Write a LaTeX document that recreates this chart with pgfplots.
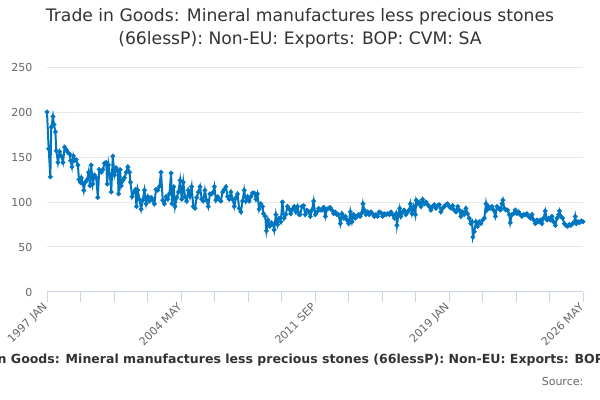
\documentclass[border=0pt]{standalone}
\usepackage{fontspec}
\setmainfont{DejaVu Sans}
\usepackage{pgfplots}
\usepackage{pgfplotstable}
\pgfplotsset{compat=1.18}
\definecolor{ons}{RGB}{0,118,192}
\definecolor{gridc}{RGB}{230,230,230}
\definecolor{axc}{RGB}{204,214,235}
\definecolor{lab}{RGB}{102,102,102}
\definecolor{tit}{RGB}{51,51,51}
\pgfplotstableread{
m v
0 200
1.1 159
2.2 128
2.8 183
3.9 195
4.6 186
5.5 178
6.1 157
7.2 144
8.3 156
9.4 151
10.5 144
11.6 161
12.7 158
13.8 155
14.9 153
15.5 146
16.4 139
17.3 151
18.1 146
19.2 147
20.3 141
21.0 125
21.8 122
22.5 127
23.6 120
24.2 113
25.1 122
26.4 125
27.3 133
28.2 118
29.0 141
30.1 120
31.2 130
32.3 127
33.4 105
34.3 136
35.6 133
36.7 136
37.8 143
38.9 144
39.5 120
40.4 141
41.3 130
42.2 111
43.2 151
44.3 130
45.4 138
46.5 134
47.0 109
48.0 136
48.7 118
49.8 124
50.9 127
52.0 133
53.1 139
54.2 133
54.8 122
55.9 106
57.0 111
58.1 114
58.7 95
59.6 113
60.7 103
61.8 92
62.9 102
64.0 113
65.1 98
66.2 106
67.3 101
68.4 105
69.5 102
70.5 98
71.6 114
72.7 113
73.8 117
74.9 133
76.0 102
77.1 98
78.2 106
79.3 103
80.4 109
81.5 132
82.1 98
83.2 117
84.1 95
85.2 105
86.3 111
87.4 124
88.5 103
89.5 122
90.6 106
91.7 101
92.8 113
93.9 106
95.0 117
96.1 95
97.2 93
98.3 105
99.4 111
100.5 117
101.6 103
102.6 101
103.7 113
104.8 102
105.9 95
107.0 109
108.1 109
109.2 111
109.9 117
110.9 102
112.0 106
113.1 103
114.2 101
115.3 111
116.4 114
117.5 117
118.6 106
119.7 103
120.8 111
121.9 103
123.0 95
124.1 105
125.1 109
126.2 93
127.3 89
128.4 101
129.5 113
130.6 101
131.7 106
132.8 101
133.9 106
135.0 110
136.1 110
137.2 103
138.2 109
139.3 92
140.4 98
141.5 95
142.2 87
143.3 84
144.1 68
145.2 80
146.3 73
147.4 77
148.5 75
149.2 69
150.3 86
151.4 75
152.4 82
153.5 78
154.6 100
155.7 82
156.8 86
157.9 95
159.0 92
160.1 87
161.2 92
162.3 95
163.4 89
164.5 95
165.5 86
166.3 86
167.4 95
168.5 96
169.6 86
170.7 91
171.8 89
172.9 84
174.0 91
175.1 101
176.2 86
177.3 89
178.4 93
179.5 91
180.6 91
181.7 94
182.8 84
183.8 92
184.9 93
186.0 94
187.1 91
188.2 87
189.3 89
190.4 86
191.5 86
192.6 76
193.7 87
194.8 82
195.9 84
197.0 80
198.1 76
199.2 89
200.3 78
201.4 86
202.5 82
203.5 84
204.6 86
205.7 84
206.8 88
207.5 98
208.4 91
209.5 86
210.6 89
211.6 86
212.7 89
213.8 87
214.9 84
216.0 86
217.1 84
218.2 89
219.3 88
220.4 84
221.5 87
222.6 86
223.7 87
224.8 86
225.9 89
227.0 86
228.1 82
229.2 87
229.8 74
230.9 87
231.6 93
232.4 84
233.5 89
234.6 91
235.7 86
236.8 89
237.9 91
238.6 98
239.7 87
240.8 95
241.9 86
242.5 102
243.4 98
244.5 100
245.6 95
246.7 103
247.8 98
248.9 100
250.0 97
251.1 95
252.1 91
253.2 95
254.3 97
255.4 93
256.5 96
257.6 97
258.7 89
259.8 93
260.9 95
262.0 97
263.1 98
264.2 95
265.3 93
266.4 96
267.5 91
268.6 89
269.7 95
270.8 91
271.8 84
272.9 89
274.0 86
275.1 93
276.2 87
277.3 82
278.4 76
279.1 78
279.7 61
280.6 67
281.7 78
282.8 73
283.9 78
285.0 76
286.1 80
287.2 82
288.3 98
288.9 91
290.0 95
291.1 93
292.2 95
293.3 91
294.4 84
295.5 95
296.6 93
297.7 91
298.8 98
299.4 102
300.3 93
301.4 91
302.5 91
303.6 86
304.2 77
305.3 86
306.4 87
307.5 91
308.6 87
309.7 89
310.8 86
311.9 84
313.0 86
314.1 86
315.2 87
316.3 84
317.4 82
318.5 86
319.6 80
320.7 76
321.8 80
322.9 78
323.9 80
325.0 76
326.1 82
327.2 90
328.3 80
329.4 82
330.5 80
331.6 84
332.7 78
333.8 74
334.9 82
336.0 86
336.6 90
337.5 84
338.6 82
339.7 76
340.8 74
341.9 73
343.0 75
344.1 74
345.2 76
346.3 78
346.9 84
347.6 76
348.7 78
349.8 77
350.9 79
352.0 78
}\datatable
\begin{document}
\begin{tikzpicture}
\useasboundingbox (0pt,0pt) rectangle (450pt,300pt);
\node[font=\fontsize{12.9}{17.25}\selectfont, text=tit, align=center] at (225pt,278.6pt)
  {Trade in Goods: Mineral manufactures less precious stones\\(66lessP): Non-EU: Exports: BOP: CVM: SA};
\node[font=\bfseries\fontsize{9.4}{11}\selectfont, text=tit] at (233.5pt,30pt)
  {Trade in Goods: Mineral manufactures less precious stones (66lessP): Non-EU: Exports: BOP: CVM: SA};
\node[font=\fontsize{8.25}{10}\selectfont, text=lab, anchor=east] at (441pt,14.25pt) {Source:};
\begin{axis}[
  at={(35.25pt,81pt)}, anchor=south west,
  scale only axis, width=402pt, height=168.75pt,
  xmin=0, xmax=352, ymin=0, ymax=250,
  axis x line*=bottom,
  axis y line*=left,
  x axis line style={draw=axc, line width=0.75pt, -},
  y axis line style={draw=none},
  ytick={0,50,...,250},
  ymajorgrids, grid style={gridc, line width=0.75pt},
  xtick={0,88,176,264,352},
  xticklabels={1997 JAN,2004 MAY,2011 SEP,2019 JAN,2026 MAY},
  minor xtick={22,44,66,110,132,154,198,220,242,286,308,330},
  tick align=outside,
  major tick length=7.5pt, minor tick length=7.5pt,
  xtick style={draw=axc, line width=0.75pt},
  ytick style={draw=none},
  xticklabel style={font=\fontsize{8.25}{10}\selectfont, text=lab, rotate=45, anchor=east, xshift=1pt, yshift=-1pt},
  yticklabel style={font=\fontsize{8.25}{10}\selectfont, text=lab},
  /pgf/number format/assume math mode=true,
  clip=false,
]
\addplot[color=ons, line width=1.5pt, mark=*, mark size=0.9pt, mark options={draw=ons, fill=ons}] table[x=m,y=v] {\datatable};
\end{axis}
\end{tikzpicture}
\end{document}
